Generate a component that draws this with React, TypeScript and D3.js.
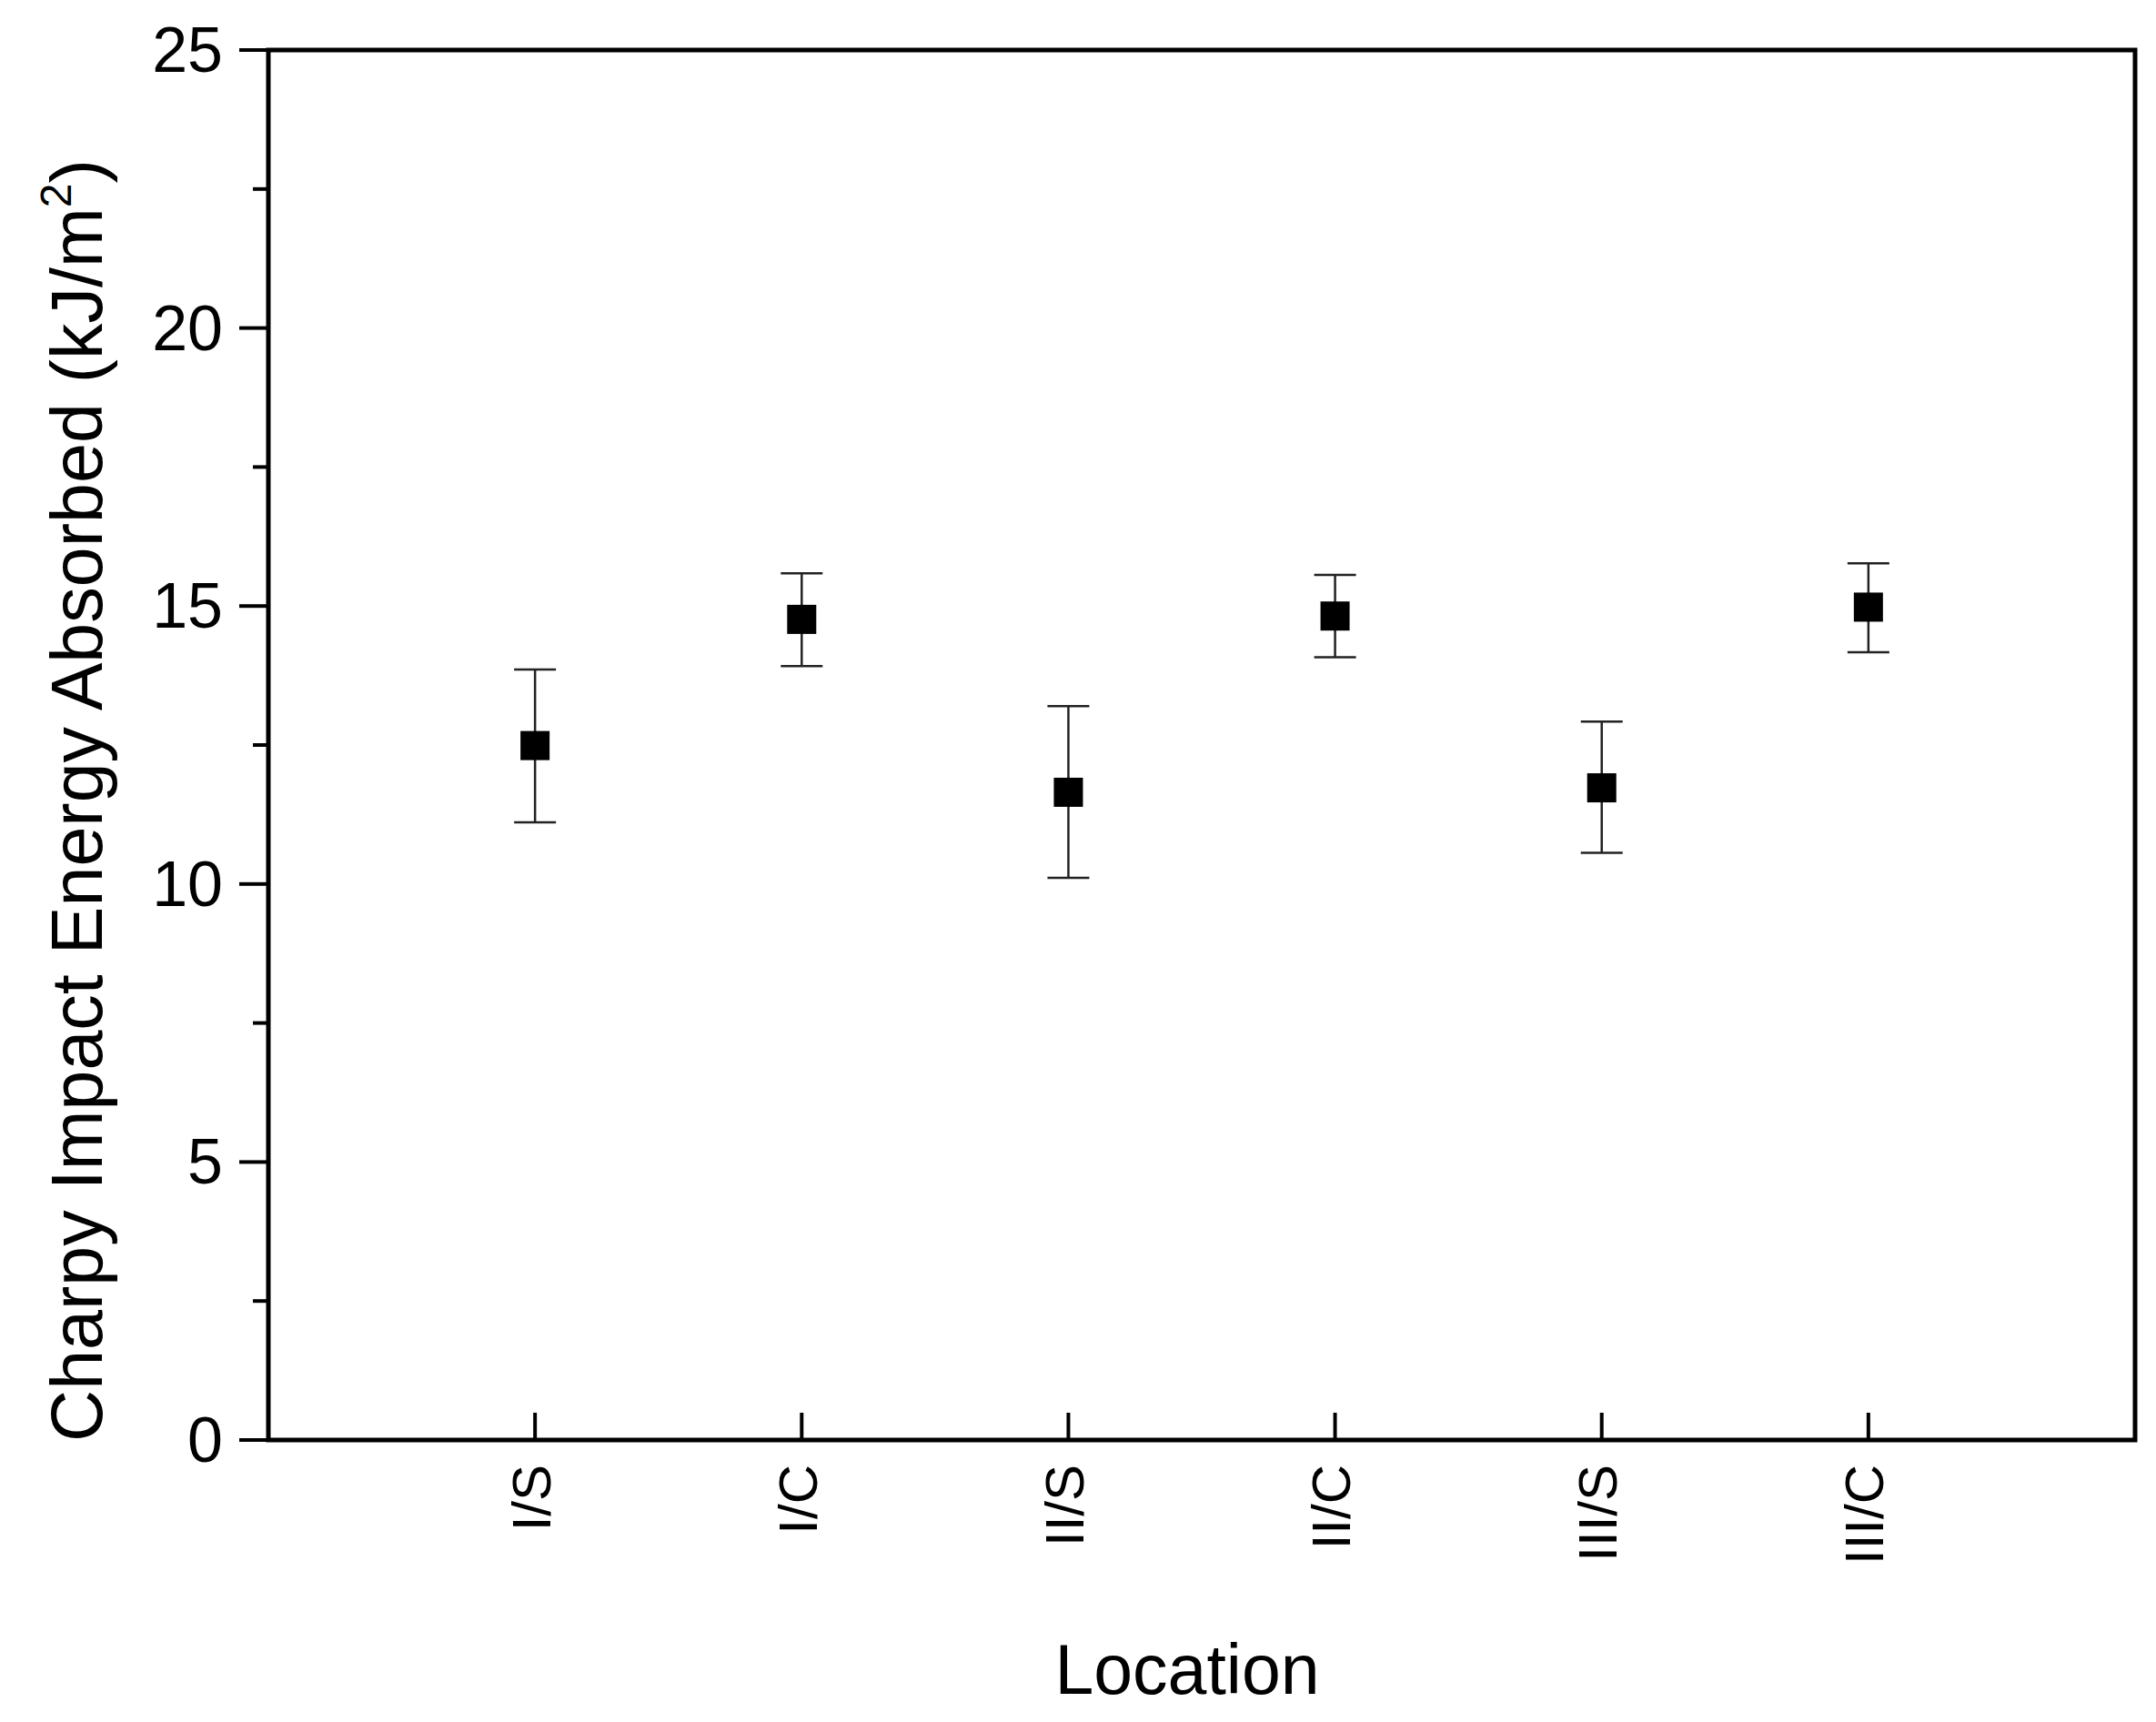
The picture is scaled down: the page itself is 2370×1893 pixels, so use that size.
import React from "react";
import * as d3 from "d3";

const categories = ["I/S", "I/C", "II/S", "II/C", "III/S", "III/C"];
const means = [12.49, 14.76, 11.65, 14.82, 11.73, 14.98];
const upper = [13.86, 15.59, 13.2, 15.56, 12.92, 15.77];
const lower = [11.11, 13.92, 10.11, 14.08, 10.56, 14.17];
const yMajorTicks = [0, 5, 10, 15, 20, 25];
const yMinorTicks = [2.5, 7.5, 12.5, 17.5, 22.5];

const W = 2370;
const H = 1893;
const M = { left: 295, right: 2347, top: 55, bottom: 1583 };
const FONT = "'Liberation Sans', Arial, Helvetica, sans-serif";

export default function App() {
  const x = d3.scaleLinear().domain([0, categories.length + 1]).range([M.left, M.right]);
  const y = d3.scaleLinear().domain([0, 25]).range([M.bottom, M.top]);
  const sq = 32;
  const cap = 23;
  return (
    <div style={{ position: "absolute", left: 0, top: 0 }}>
      <svg width={W} height={H} style={{ display: "block", background: "#fff" }}>
        {/* y ticks */}
        {yMajorTicks.map((t) => (
          <g key={"ym" + t}>
            <line x1={M.left - 32} x2={M.left} y1={y(t)} y2={y(t)} stroke="#000" strokeWidth={4} />
            <text
              x={M.left - 50}
              y={y(t)}
              textAnchor="end"
              dominantBaseline="central"
              fontFamily={FONT}
              fontSize={70}
              fill="#000"
            >
              {t}
            </text>
          </g>
        ))}
        {yMinorTicks.map((t) => (
          <line key={"yn" + t} x1={M.left - 17} x2={M.left} y1={y(t)} y2={y(t)} stroke="#000" strokeWidth={4} />
        ))}
        {/* x ticks and labels */}
        {categories.map((c, i) => (
          <g key={"x" + c}>
            <line x1={x(i + 1)} x2={x(i + 1)} y1={M.bottom} y2={M.bottom - 30} stroke="#000" strokeWidth={4} />
            <text
              transform={`translate(${x(i + 1) - 4},${M.bottom + 27}) rotate(-90)`}
              textAnchor="end"
              dominantBaseline="central"
              fontFamily={FONT}
              fontSize={60}
              fill="#000"
            >
              {c}
            </text>
          </g>
        ))}
        {/* error bars and points */}
        {categories.map((c, i) => {
          const cx = x(i + 1);
          return (
            <g key={"p" + c}>
              <line x1={cx} x2={cx} y1={y(upper[i])} y2={y(lower[i])} stroke="#222" strokeWidth={2.5} />
              <line x1={cx - cap} x2={cx + cap} y1={y(upper[i])} y2={y(upper[i])} stroke="#222" strokeWidth={2.5} />
              <line x1={cx - cap} x2={cx + cap} y1={y(lower[i])} y2={y(lower[i])} stroke="#222" strokeWidth={2.5} />
              <rect x={cx - sq / 2} y={y(means[i]) - sq / 2} width={sq} height={sq} fill="#000" />
            </g>
          );
        })}
        {/* frame */}
        <rect
          x={M.left}
          y={M.top}
          width={M.right - M.left}
          height={M.bottom - M.top}
          fill="none"
          stroke="#000"
          strokeWidth={5}
        />
        {/* axis titles */}
        <text
          x={1305}
          y={1862}
          textAnchor="middle"
          fontFamily={FONT}
          fontSize={77}
          fill="#000"
        >
          Location
        </text>
        <text
          transform={`translate(112,880) rotate(-90)`}
          textAnchor="middle"
          fontFamily={FONT}
          fontSize={79}
          fill="#000"
        >
          Charpy Impact Energy Absorbed (kJ/m
          <tspan fontSize={48} dy={-34}>2</tspan>
          <tspan dy={34}>)</tspan>
        </text>
      </svg>
    </div>
  );
}
